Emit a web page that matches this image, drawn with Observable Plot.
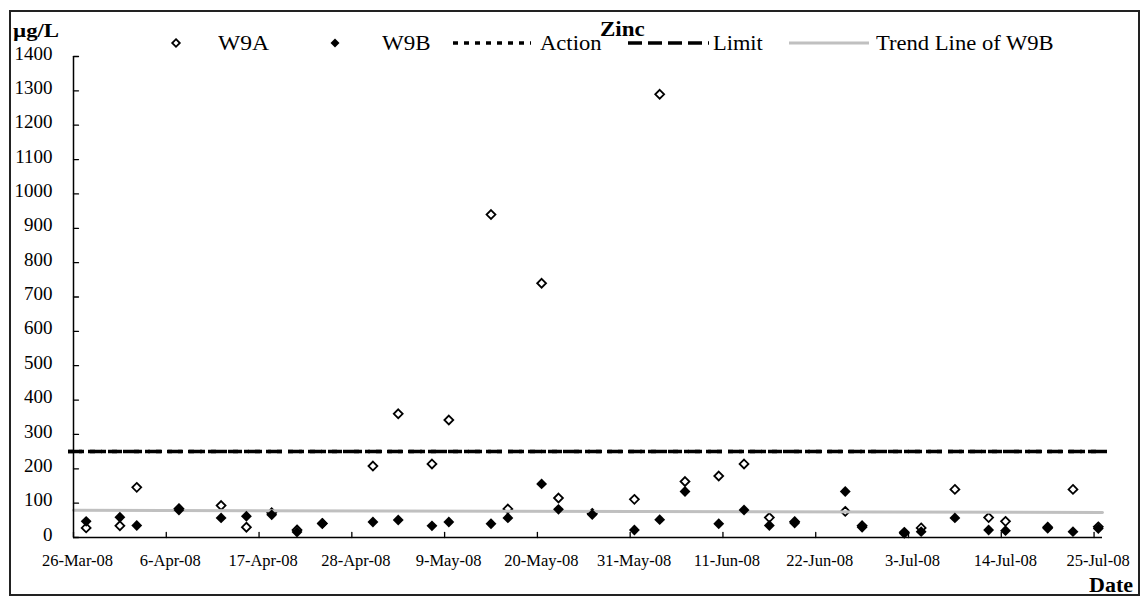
<!DOCTYPE html>
<html>
<head>
<meta charset="utf-8">
<script src="https://cdn.jsdelivr.net/npm/d3@7"></script>
<script src="https://cdn.jsdelivr.net/npm/@observablehq/plot@0.6"></script>
<style>
  body { margin: 0; background: #fff; }
  #wrap { position: relative; width: 1142px; height: 596px; overflow: hidden;
          font-family: "Liberation Serif", "Times New Roman", serif; color: #000; }
  #wrap svg, #wrap svg text, #wrap svg g { font-family: "Liberation Serif", "Times New Roman", serif !important; }
  #border { position: absolute; left: 9px; top: 10px; width: 1131px; height: 586px;
            border: 2px solid #222; box-sizing: border-box; pointer-events: none; }
  .lab { position: absolute; white-space: nowrap; transform-origin: 0 0; }
  #overlay { position: absolute; left: 0; top: 0; }
</style>
</head>
<body>
<div id="wrap"><div id="border"></div></div>
<script>
// ---- data ----
const sampleDates = ["2008-03-27","2008-03-31","2008-04-02","2008-04-07","2008-04-12","2008-04-15",
  "2008-04-18","2008-04-21","2008-04-24","2008-04-30","2008-05-03","2008-05-07","2008-05-09",
  "2008-05-14","2008-05-16","2008-05-20","2008-05-22","2008-05-26","2008-05-31","2008-06-03",
  "2008-06-06","2008-06-10","2008-06-13","2008-06-16","2008-06-19","2008-06-25","2008-06-27",
  "2008-07-02","2008-07-04","2008-07-08","2008-07-12","2008-07-14","2008-07-19","2008-07-22","2008-07-25"];
const w9a = [28, 34, 146, 84, 93, 30, 72, 22, 41, 208, 360, 214, 342, 940, 83, 740, 115, 70, 111, 1290,
  163, 179, 214, 58, 46, 76, 34, 15, 28, 140, 58, 47, 30, 140, 31];
const w9b = [47, 59, 35, 80, 57, 62, 66, 16, 41, 45, 51, 34, 45, 40, 57, 156, 82, 67, 22, 52,
  134, 40, 80, 35, 42, 134, 30, 12, 17, 57, 22, 20, 27, 17, 26];
const actionLevel = 250;
const limitLevel = 250;
const trendDates = ["2008-03-26", "2008-07-26"];
const trendValues = [79, 73];
const xDomain = ["2008-03-26", "2008-07-26"];
const xTickDates = ["2008-03-26","2008-04-06","2008-04-17","2008-04-28","2008-05-09","2008-05-20",
  "2008-05-31","2008-06-11","2008-06-22","2008-07-03","2008-07-14","2008-07-25"];
const yTicks = [0,100,200,300,400,500,600,700,800,900,1000,1100,1200,1300,1400];
const seriesNames = ["W9A", "W9B", "Action", "Limit", "Trend Line of W9B"];

// ---- build ----
const serif = '"Liberation Serif", "Times New Roman", serif';
const day = s => new Date(s + "T00:00Z");
const midday = s => new Date(s + "T12:00Z");
const rows = sampleDates.map((d, i) => ({date: midday(d), a: w9a[i], b: w9b[i]}));
const trend = trendDates.map((d, i) => ({date: day(d), v: trendValues[i]}));
const x0 = day(xDomain[0]);
const tickShape = {draw(context, l) { context.moveTo(0, 0); context.lineTo(0, -l); }};

const chart = Plot.plot({
  width: 1142, height: 596,
  marginLeft: 73, marginRight: 40, marginTop: 56, marginBottom: 59,
  style: {fontFamily: serif, background: "transparent", color: "#000", overflow: "visible"},
  x: {type: "utc", domain: xDomain.map(day)},
  y: {domain: [0, 1400]},
  marks: [
    Plot.ruleY([actionLevel], {stroke: "#000", strokeWidth: 3.5, strokeDasharray: "5,6", insetLeft: -5, insetRight: -5}),
    Plot.ruleY([limitLevel], {stroke: "#000", strokeWidth: 3.5, strokeDasharray: "14,6", insetLeft: -5, insetRight: -5}),
    Plot.dot(rows, {x: "date", y: "a", symbol: "diamond2", r: 4, stroke: "#000", strokeWidth: 1.8, fill: "#fff"}),
    Plot.line(trend, {x: "date", y: "v", stroke: "#c0c0c0", strokeWidth: 3}),
    Plot.dot(rows, {x: "date", y: "b", symbol: "diamond2", r: 4.9, fill: "#000"}),
    Plot.ruleX([x0], {stroke: "#000", strokeWidth: 1.5}),
    Plot.ruleY([0], {stroke: "#000", strokeWidth: 1.5}),
    // inward tick marks
    Plot.vector(yTicks, {x: () => x0, y: d => d, length: 5, rotate: 90, anchor: "start", shape: tickShape, stroke: "#000", strokeWidth: 1.3}),
    Plot.vector(xTickDates, {x: d => day(d), y: () => 0, length: 5, rotate: 0, anchor: "start", shape: tickShape, stroke: "#000", strokeWidth: 1.3}),
    Plot.axisX({ticks: xTickDates.map(day), tickFormat: d3.utcFormat("%-d-%b-%y"), tickSize: 0, tickPadding: 17,
                fontSize: 16.5, fontFamily: serif, label: null, dx: 4}),
    Plot.axisY({ticks: yTicks, tickFormat: d => String(d), tickSize: 0, tickPadding: 21, fontSize: 19,
                fontFamily: serif, label: null, dy: -3})
  ]
});
const wrap = document.getElementById("wrap");
wrap.insertBefore(chart, wrap.firstChild);

// ---- legend / titles ----
const ov = d3.select(wrap).append("svg").attr("id", "overlay").attr("width", 1142).attr("height", 596);
const dia = r => `M0,${-r}L${r},0L0,${r}L${-r},0Z`;
ov.append("path").attr("d", dia(3.8)).attr("transform", "translate(176,43)").attr("fill", "#fff").attr("stroke", "#000").attr("stroke-width", 1.8);
ov.append("path").attr("d", dia(4.5)).attr("transform", "translate(335,43)").attr("fill", "#000");
ov.append("line").attr("x1", 453).attr("x2", 531).attr("y1", 43).attr("y2", 43).attr("stroke", "#000").attr("stroke-width", 3.5).attr("stroke-dasharray", "5,6");
ov.append("line").attr("x1", 628).attr("x2", 709).attr("y1", 43).attr("y2", 43).attr("stroke", "#000").attr("stroke-width", 3.5).attr("stroke-dasharray", "14,6");
ov.append("line").attr("x1", 789).attr("x2", 869).attr("y1", 43).attr("y2", 43).attr("stroke", "#c0c0c0").attr("stroke-width", 3);

function label(text, left, top, size, sx, bold) {
  const el = document.createElement("div");
  el.className = "lab";
  el.textContent = text;
  el.style.left = left + "px";
  el.style.top = top + "px";
  el.style.fontSize = size + "px";
  el.style.lineHeight = size + "px";
  el.style.fontWeight = bold ? "bold" : "normal";
  el.style.transform = `scaleX(${sx})`;
  wrap.appendChild(el);
}
label(seriesNames[0], 218, 33, 20, 1.18, false);
label(seriesNames[1], 382, 33, 20, 1.15, false);
label(seriesNames[2], 540, 33, 20, 1.13, false);
label(seriesNames[3], 713, 33, 20, 1.12, false);
label(seriesNames[4], 876, 33, 20, 1.13, false);
label("Zinc", 600, 19, 20, 1.15, true);
label("µg/L", 13, 21, 19, 1.2, true);
label("Date", 1089, 575, 20, 1.1, true);
</script>
</body>
</html>
